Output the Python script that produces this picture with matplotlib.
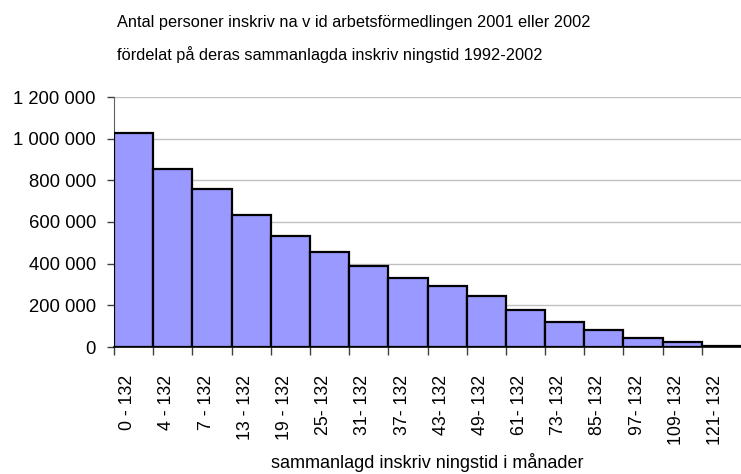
import numpy as np
import matplotlib
matplotlib.use('Agg')
import matplotlib.pyplot as plt
from matplotlib.ticker import FuncFormatter, FixedLocator

# data
categories = ['0 - 132', '4 - 132', '7 - 132', '13 - 132', '19 - 132', '25- 132',
              '31- 132', '37- 132', '43- 132', '49- 132', '61- 132', '73- 132',
              '85- 132', '97- 132', '109- 132', '121- 132']
persons = [1027000, 853000, 757000, 632000, 535000, 458000, 390000, 332000,
           294000, 246000, 178000, 120000, 81000, 43000, 24000, 4000]
yticks = [0, 200000, 400000, 600000, 800000, 1000000, 1200000]

title1 = 'Antal personer inskriv na v id arbetsförmedlingen 2001 eller 2002'
title2 = 'fördelat på deras sammanlagda inskriv ningstid 1992-2002'
xlabel = 'sammanlagd inskriv ningstid i månader'

plt.rcParams['font.family'] = ['Liberation Sans', 'DejaVu Sans']

fig = plt.figure(figsize=(7.41, 4.74), dpi=100)
ax = fig.add_axes([114 / 741, 1 - 347 / 474, 627 / 741, 250 / 474])

x = np.arange(len(categories))
ax.bar(x, persons, width=1.0, color='#9999ff', edgecolor='black', linewidth=1.6, zorder=3)

ax.set_xlim(-0.5, len(categories) - 0.5)
ax.set_ylim(0, 1200000)

# gridlines
ax.set_yticks(yticks)
ax.yaxis.set_major_formatter(FuncFormatter(lambda v, p: f'{int(v):,}'.replace(',', ' ')))
ax.grid(axis='y', color='#c0c0c0', linewidth=1, zorder=0)
ax.tick_params(axis='y', length=5, width=1, color='#404040', labelsize=13.3, pad=8)

# x: tick marks at bar edges, labels a bit left of bar centres
ax.xaxis.set_major_locator(FixedLocator(x - 0.5))
ax.xaxis.set_major_formatter(FuncFormatter(lambda v, p: ''))
ax.xaxis.set_minor_locator(FixedLocator(x - 0.15))
ax.set_xticklabels(categories, minor=True, rotation=90)
ax.tick_params(axis='x', which='major', length=6, width=1, color='#404040')
ax.tick_params(axis='x', which='minor', length=0, labelsize=12.8, pad=20)

for s in ['top', 'right']:
    ax.spines[s].set_visible(False)
ax.spines['left'].set_color('#606060')
ax.spines['bottom'].set_color('black')
ax.spines['bottom'].set_linewidth(1.2)

fig.text(117 / 741, 1 - 22 / 474, title1, fontsize=11.8, va='center', ha='left')
fig.text(117 / 741, 1 - 55 / 474, title2, fontsize=11.8, va='center', ha='left')
fig.text(427 / 741, 1 - 463 / 474, xlabel, fontsize=13, va='center', ha='center')

fig.savefig('out.png', dpi=100)
